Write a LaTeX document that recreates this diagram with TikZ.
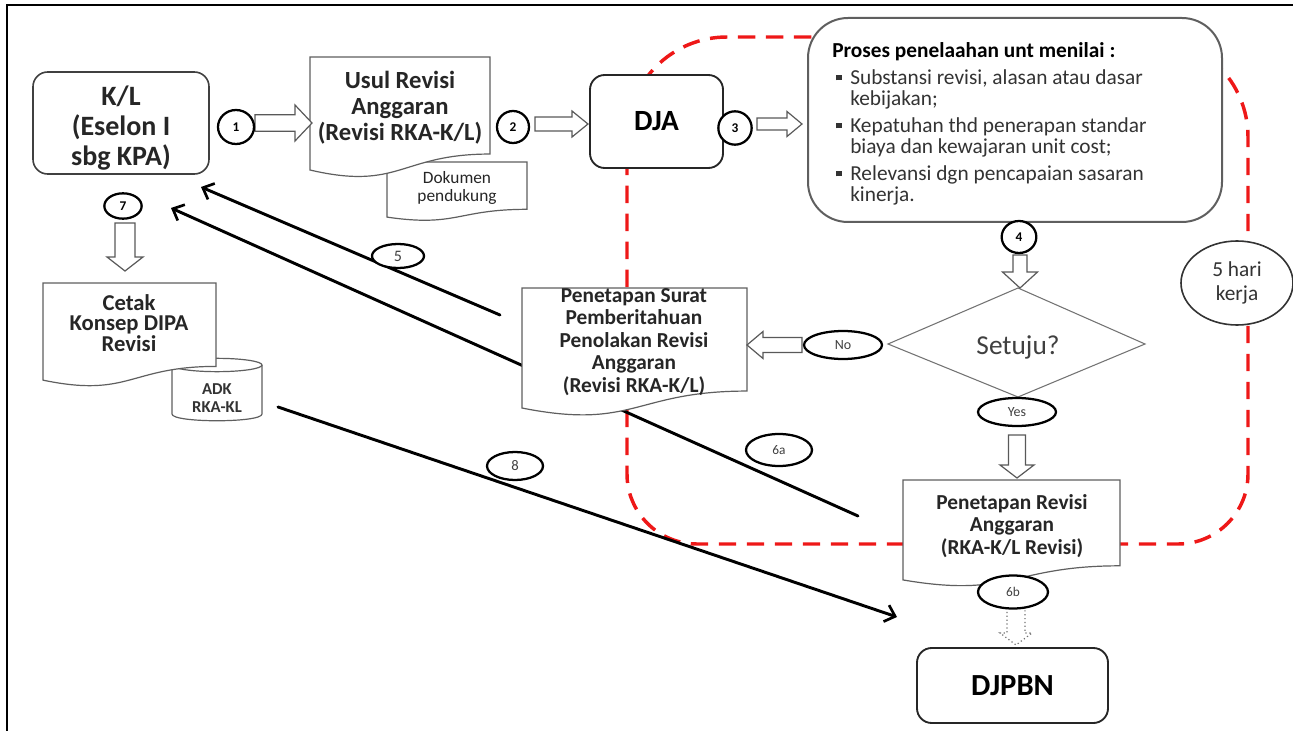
\documentclass[tikz,border=0pt]{standalone}
\usepackage{fontspec}
\setmainfont{Carlito}
\usetikzlibrary{shapes.geometric,arrows.meta}
\definecolor{redd}{RGB}{238,24,24}
\definecolor{edge}{RGB}{95,95,95}
\newcommand{\fs}[2]{\fontsize{#1}{#2}\selectfont}
\newcommand{\docshape}[4]{%
  \draw[docline] (#1,#2) -- ({#1+#3},#2) -- ({#1+#3},{#2+0.802*#4})
   .. controls ({#1+0.5*#3},{#2+0.802*#4}) and ({#1+0.5*#3},{#2+1.1075*#4}) ..
   (#1,{#2+0.934*#4}) -- cycle;}
\newcommand{\harrow}[6]{%
  \draw[barrow] (#1,{#3-#4}) -- ({#2-#6},{#3-#4}) -- ({#2-#6},{#3-#5}) -- (#2,#3)
   -- ({#2-#6},{#3+#5}) -- ({#2-#6},{#3+#4}) -- (#1,{#3+#4}) -- cycle;}
\newcommand{\varrow}[7][barrow]{%
  \draw[#1] ({#2-#5},#3) -- ({#2-#5},{#4-#7}) -- ({#2-#6},{#4-#7}) -- (#2,#4)
   -- ({#2+#6},{#4-#7}) -- ({#2+#5},{#4-#7}) -- ({#2+#5},#3) -- cycle;}
\newcommand{\bul}{\hspace*{3pt}\rule[0.18em]{4pt}{4pt}\hspace*{6.5pt}}
\newcommand{\ind}{\hspace*{13.5pt}}
\tikzset{
  docline/.style={draw=edge, line width=0.9pt, fill=white},
  barrow/.style={draw=black!65, line width=0.9pt, fill=white},
  dotarrow/.style={draw=black!55, line width=0.9pt, dotted, fill=white},
  rbox/.style={draw=black!75, line width=1.2pt, rounded corners=11pt, fill=white, inner sep=0pt, align=center},
  num/.style={ellipse, draw=black, line width=1.7pt, fill=white, inner sep=0pt, font=\bfseries\fs{10}{12}},
  lab/.style={ellipse, draw=black, line width=1.7pt, fill=white, inner sep=0pt, text=black!75, font=\fs{10.5}{12}},
  conn/.style={line width=2.2pt, line cap=round, -{Straight Barb[length=7pt,width=13pt,line width=2pt]}},
  redloop/.style={draw=redd, line width=2.6pt, dash pattern=on 13pt off 8pt},
  txt/.style={align=center, inner sep=0pt},
}
\begin{document}
\begin{tikzpicture}[x=0.75pt,y=-0.75pt]
\useasboundingbox (0,0) rectangle (1293,731);
% frame
\draw[line width=1.6pt] (7,731) -- (7,5) -- (1293,5);
% red dashed time loop
\draw[redloop] (627,137) .. controls (627,81.8) and (671.8,37) .. (727,37) -- (1148,37)
  .. controls (1203.2,37) and (1248,81.8) .. (1248,137) -- (1248,474)
  .. controls (1248,512.6) and (1216.6,544) .. (1178,544) -- (697,544)
  .. controls (658.4,544) and (627,512.6) .. (627,474) -- cycle;
% black connectors
\coordinate (c5s) at (500,315); \coordinate (c5e) at (201,187);
\coordinate (c6s) at (858,516); \coordinate (c6e) at (171,208);
\coordinate (c8s) at (278,407); \coordinate (c8e) at (897,617);
\draw[conn] (c5s) -- (c5e);
\draw[conn] (c6s) -- (c6e);
\draw[conn] (c8s) -- (c8e);
% cylinder ADK
\draw[docline] (172,365) -- (172,414) .. controls (172,423) and (262,423) .. (262,414) -- (262,365);
\draw[docline] (217,365) ellipse [x radius=33.75pt, y radius=5pt];
\node[txt, font=\bfseries\fs{12.5}{14}, text=black!80] (adk) at (217,398) {ADK\\RKA-KL};
% documents
\docshape{387}{162}{140}{59}
\node[txt, font=\fs{13}{13.5}, text=black!85] (dok) at (457,188) {Dokumen\\pendukung};
\docshape{310}{57}{180}{121}
\node[txt, font=\bfseries\fs{18.5}{19.5}, text=black!85] (usul) at (400,108) {Usul Revisi\\Anggaran\\(Revisi RKA-K/L)};
\docshape{43}{283}{173}{104}
\node[txt, font=\bfseries\fs{17}{15.5}, text=black!85] (cetak) at (129,323) {Cetak\\Konsep DIPA\\Revisi};
\docshape{522}{288}{225}{128.5}
\node[txt, font=\bfseries\fs{16}{16.9}, text=black!85] (tolak) at (634,342) {Penetapan Surat\\Pemberitahuan\\Penolakan Revisi\\Anggaran\\(Revisi RKA-K/L)};
\docshape{903}{480}{217}{107}
\node[txt, font=\bfseries\fs{16}{16.9}, text=black!85] (tetap) at (1012,526) {Penetapan Revisi\\Anggaran\\(RKA-K/L Revisi)};
% rounded boxes
\node[rbox, minimum width=132pt, minimum height=76.5pt] (kl) at (121,123) {};
\node[txt, font=\bfseries\fs{21}{22.5}, text=black!85] (kltext) at (121,128) {K/L\\(Eselon I\\sbg KPA)};
\node[rbox, draw=black!85, line width=1.4pt, minimum width=99.75pt, minimum height=69.75pt, font=\bfseries\fs{22}{24}] (dja) at (656.5,121.5) {DJA};
\node[rbox, draw=black!85, line width=1.4pt, minimum width=143.25pt, minimum height=56.25pt, font=\bfseries\fs{23}{25}] (djpbn) at (1012.5,685.5) {DJPBN};
\node[rbox, draw=edge, line width=1.5pt, rounded corners=30pt, minimum width=310.5pt, minimum height=153pt] (proc) at (1015,120) {};
\node[anchor=north west, align=left, inner sep=0pt, font=\fs{16}{15.75}, text=black!80] (proctext) at (832,42)
 {\textcolor{black}{\bfseries Proses penelaahan unt menilai :}\\[4.5pt]
  \bul Substansi revisi, alasan atau dasar\\
  \ind kebijakan;\\[4.5pt]
  \bul Kepatuhan thd penerapan standar\\
  \ind biaya dan kewajaran unit cost;\\[4.5pt]
  \bul Relevansi dgn pencapaian sasaran\\
  \ind kinerja.};
% decision
\draw[draw=black!55, line width=0.8pt, fill=white] (1018,288) -- (1145,344) -- (1018,397) -- (888,344) -- cycle;
\node[txt, font=\fs{20.5}{22}, text=black!75] (setuju) at (1018,347) {Setuju?};
% block arrows
\harrow{255}{312}{123}{8.3}{18}{17}
\harrow{535}{588}{124}{7}{13}{16}
\harrow{757}{802}{124}{6}{12.5}{15}
\harrow{802}{747}{345}{7.5}{13.5}{-16}
\varrow{1020}{255}{288}{7}{17.5}{16}
\varrow{1017}{435}{478}{8.5}{17}{13}
\varrow{125}{223}{271}{10}{18}{14}
\varrow[dotarrow]{1016}{608}{645}{9}{16}{12}
% numbered circles
\node[num, minimum width=27pt, minimum height=25.5pt] (n1) at (236,127) {1};
\node[num, minimum width=24pt, minimum height=24pt] (n2) at (513,127) {2};
\node[num, minimum width=25pt, minimum height=25pt] (n3) at (735,128) {3};
\node[num, minimum width=26pt, minimum height=24pt] (n4) at (1019,237) {4};
\node[num, minimum width=28pt, minimum height=19pt] (n7) at (123,206) {7};
% labels
\node[lab, minimum width=39pt, minimum height=18pt, font=\fs{12}{13}] (l5) at (398,256) {5};
\node[lab, minimum width=49.5pt, minimum height=24pt, font=\fs{10}{12}] (l6a) at (779,450) {6a};
\node[lab, minimum width=42pt, minimum height=21pt, font=\fs{11}{12}] (l8) at (515,466) {8};
\node[lab, minimum width=58.5pt, minimum height=21pt] (lno) at (843,345) {No};
\node[lab, minimum width=58.5pt, minimum height=21pt] (lyes) at (1017,412) {Yes};
\node[lab, minimum width=52.5pt, minimum height=24.75pt, font=\fs{10}{12}] (l6b) at (1013,592) {6b};
\node[ellipse, draw=black!80, line width=1.2pt, fill=white, inner sep=0pt, minimum width=84pt, minimum height=63pt, align=center, font=\fs{16}{18}, text=black!80] (hari) at (1237,283) {5 hari\\kerja};
\end{tikzpicture}
\end{document}
